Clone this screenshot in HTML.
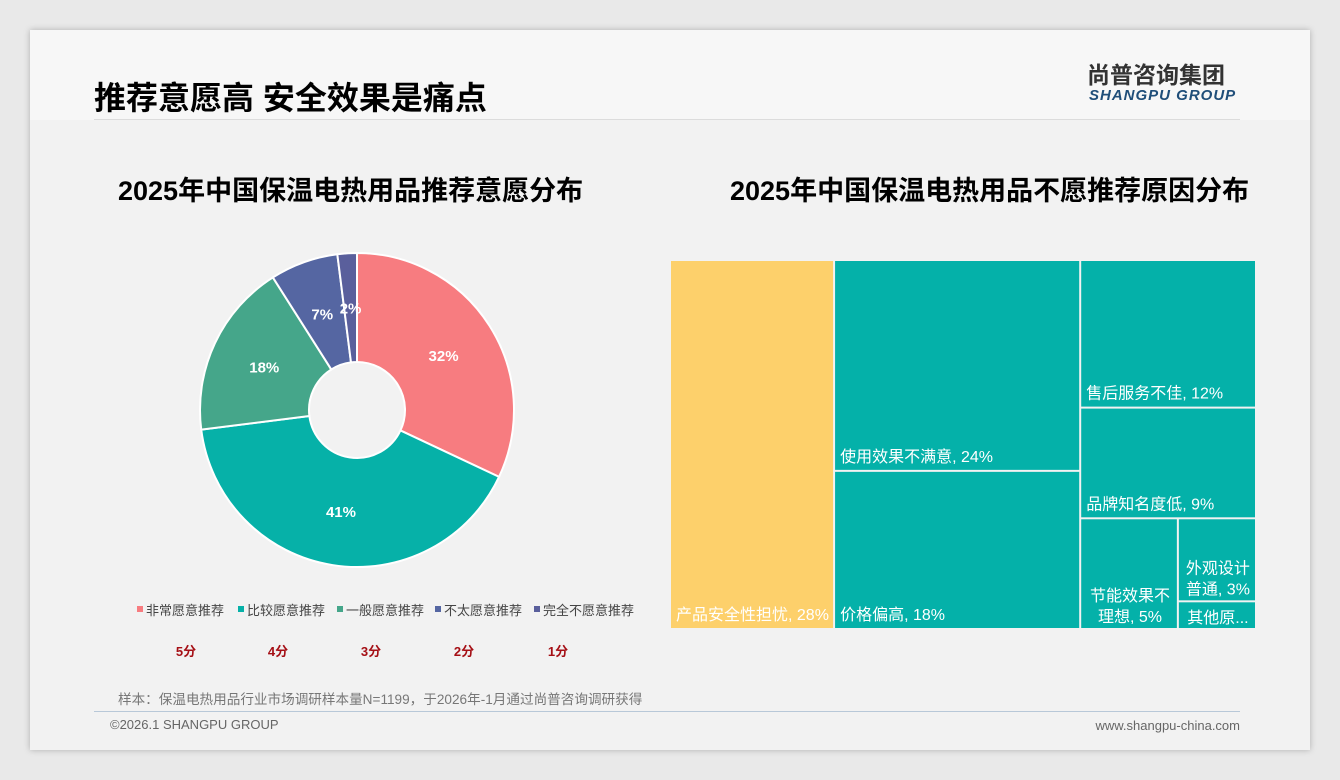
<!DOCTYPE html>
<html><head><meta charset="utf-8">
<style>
body{margin:0;width:1340px;height:780px;background:#e9e9e9;font-family:"Liberation Sans","Noto Sans CJK SC",sans-serif;position:relative;overflow:hidden}
#slide{position:absolute;left:30px;top:30px;width:1280px;height:720px;background:#f2f2f2;box-shadow:0 0 6px rgba(0,0,0,.25)}
.abs{position:absolute}
</style></head><body>
<div id="slide">
 <div class="abs" style="left:0;top:0;width:1280px;height:90px;background:#f7f7f7"></div>
 <div class="abs" style="left:64px;top:43px;font-size:32px;font-weight:bold;color:#000;white-space:nowrap">推荐意愿高 安全效果是痛点</div>
 <div class="abs" style="left:64px;top:89px;width:1146px;height:1px;background:#dcdcdc"></div>
 <div class="abs" style="left:1057px;top:34px;font-size:23px;line-height:23px;font-weight:bold;color:#333;white-space:nowrap">尚普咨询集团</div>
 <div class="abs" style="left:1059px;top:58px;font-size:15px;line-height:15px;font-weight:bold;font-style:italic;color:#1f4e79;letter-spacing:1px;white-space:nowrap">SHANGPU GROUP</div>
 <div class="abs" style="left:88px;top:139px;font-size:27px;font-weight:bold;color:#000;white-space:nowrap">2025年中国保温电热用品推荐意愿分布</div>
 <div class="abs" style="left:700px;top:139px;font-size:27px;font-weight:bold;color:#000;white-space:nowrap">2025年中国保温电热用品不愿推荐原因分布</div>
 <div class="abs" style="left:88px;top:658px;font-size:13.6px;color:#777;white-space:nowrap">样本：保温电热用品行业市场调研样本量N=1199，于2026年-1月通过尚普咨询调研获得</div>
 <div class="abs" style="left:64px;top:681px;width:1146px;height:1px;background:#b8c8d8"></div>
 <div class="abs" style="left:80px;top:687px;font-size:13px;color:#666">©2026.1 SHANGPU GROUP</div>
 <div class="abs" style="right:70px;top:688px;font-size:13px;color:#666">www.shangpu-china.com</div>
</div>
<svg id="chart" width="1340" height="780" style="position:absolute;left:0;top:0"></svg>
<script>
const pieCats=["非常愿意推荐","比较愿意推荐","一般愿意推荐","不太愿意推荐","完全不愿意推荐"];
const pieVals=[32,41,18,7,2];
const pieScores=["5分","4分","3分","2分","1分"];
const pieColors=["#f77c80","#06b1a8","#45a68a","#5566a2","#5a5f9c"];
const tmCats=["产品安全性担忧","使用效果不满意","价格偏高","售后服务不佳","品牌知名度低","节能效果不理想","外观设计普通","其他原因"];
const tmVals=[28,24,18,12,9,5,3,1];
const NS="http://www.w3.org/2000/svg";
const svg=document.getElementById('chart');
function mk(t,a,p){const e=document.createElementNS(NS,t);for(const k in a)e.setAttribute(k,a[k]);(p||svg).appendChild(e);return e;}
const cx=357,cy=410,R=157,r=48;
const tot=pieVals.reduce((a,b)=>a+b,0);
let ang=0;
pieVals.forEach((v,i)=>{
 const a0=ang/tot*2*Math.PI,a1=(ang+v)/tot*2*Math.PI;ang+=v;
 const p=(a,rr)=>[cx+rr*Math.sin(a),cy-rr*Math.cos(a)];
 const [x0,y0]=p(a0,R),[x1,y1]=p(a1,R),[x2,y2]=p(a1,r),[x3,y3]=p(a0,r);
 const lg=(a1-a0)>Math.PI?1:0;
 const s=mk('path',{d:`M${x0},${y0}A${R},${R} 0 ${lg} 1 ${x1},${y1}L${x2},${y2}A${r},${r} 0 ${lg} 0 ${x3},${y3}Z`,fill:pieColors[i],stroke:"#fff","stroke-width":2});
 
 
 const am=(a0+a1)/2,[lx,ly]=p(am,(R+r)/2);
 const t=mk('text',{x:lx,y:ly+6,"text-anchor":"middle","font-size":15,"font-weight":"bold",fill:"#fff"});
 t.textContent=v+"%";
 
 
 const lxp=[137,238,337,435,534][i];
 const sq=mk('rect',{x:lxp,y:606,width:6,height:6,fill:pieColors[i]});
 
 
 const lt=mk('text',{x:lxp+9,y:615,"font-size":13,fill:"#444"});
 lt.textContent=pieCats[i];
 
 
 const sc=mk('text',{x:[186,278,371,464,558][i],y:656,"text-anchor":"middle","font-size":13,"font-weight":"bold",fill:"#a50f15"});
 sc.textContent=pieScores[i];
 
 
});
const X0=671,Y0=261,W=586,H=369,G=2;
const T=tmVals.reduce((a,b)=>a+b,0);
const rects=[];
const w1=W*tmVals[0]/T, w2=W*(tmVals[1]+tmVals[2])/T, w3=W-w1-w2;
rects.push([X0,Y0,w1,H]);
const h2a=H*tmVals[1]/(tmVals[1]+tmVals[2]);
rects.push([X0+w1,Y0,w2,h2a]);
rects.push([X0+w1,Y0+h2a,w2,H-h2a]);
const c3=tmVals.slice(3).reduce((a,b)=>a+b,0);
const hA=H*tmVals[3]/c3,hB=H*tmVals[4]/c3,hC=H-hA-hB;
const x3=X0+w1+w2;
rects.push([x3,Y0,w3,hA]);
rects.push([x3,Y0+hA,w3,hB]);
const rest=tmVals[5]+tmVals[6]+tmVals[7];
const wE=w3*tmVals[5]/rest;
rects.push([x3,Y0+hA+hB,wE,hC]);
const hF=hC*tmVals[6]/(tmVals[6]+tmVals[7]);
rects.push([x3+wE,Y0+hA+hB,w3-wE,hF]);
rects.push([x3+wE,Y0+hA+hB+hF,w3-wE,hC-hF]);
const labels=[null,null,null,null,null,["节能效果不","理想, "],["外观设计","普通, "],null];
rects.forEach((q,i)=>{
 const [x,y,w,h]=q;
 const rc=mk('rect',{x:x,y:y,width:w-G,height:h-G,fill:i==0?"#fdd06b":"#04b1a9"});
 
 
 const tx=mk('text',{x:x+5,y:y+h-10,"font-size":16,fill:"#fff"});
 
 
 if(i==7){tx.setAttribute('x',x+w/2);tx.setAttribute('text-anchor','middle');tx.setAttribute('y',y+h-7);tx.textContent="其他原...";}
 else if(labels[i]){
  tx.setAttribute('text-anchor','middle');
  const ts1=mk('tspan',{x:x+w/2,y:y+h-29},tx);ts1.textContent=labels[i][0];
  const ts2=mk('tspan',{x:x+w/2,y:y+h-8},tx);ts2.textContent=labels[i][1]+tmVals[i]+"%";
 } else tx.textContent=tmCats[i]+", "+tmVals[i]+"%";
});
</script>
</body></html>
